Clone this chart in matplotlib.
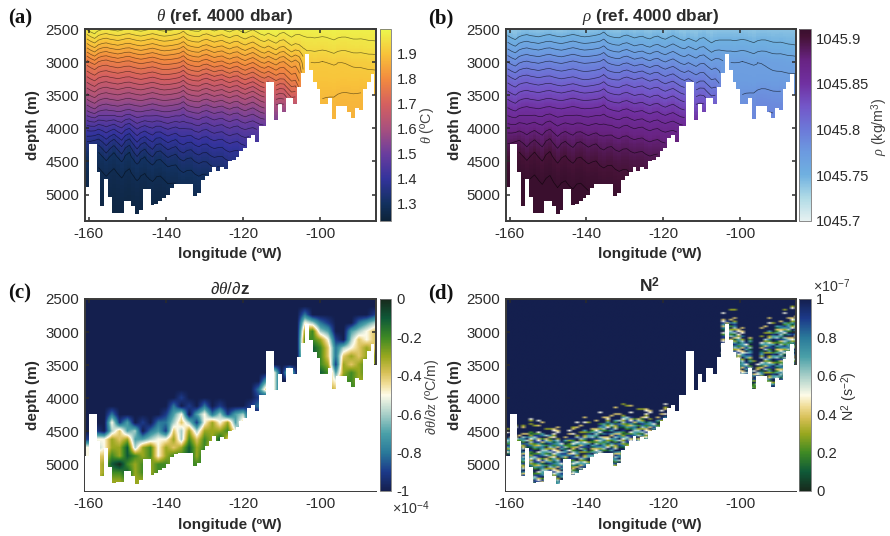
import numpy as np
import matplotlib
matplotlib.use("Agg")
import matplotlib.pyplot as plt
from matplotlib.colors import LinearSegmentedColormap as LSC

W, H = 890, 536
plt.rcParams.update({
    "font.family": ["Liberation Sans", "DejaVu Sans"],
    "mathtext.fontset": "custom",
    "mathtext.rm": "Liberation Sans",
    "mathtext.it": "Liberation Serif:italic",
    "mathtext.bf": "Liberation Sans:bold",
    "axes.unicode_minus": False,
    "axes.linewidth": 1.4,
    "axes.edgecolor": "#3a3a3a",
    "text.color": "#2b2b2b",
    "xtick.color": "#2b2b2b",
    "ytick.color": "#2b2b2b",
})

# ---- sea-floor depth, one value per 1-degree bin from -161 to -85
lon_start = -161
bottom_depth = [
    4870, 4230, 4230, 4650, 5180, 4750, 5030, 5280, 5270, 5270,
    5100, 5100, 5180, 5290, 5240, 4920, 4920, 5160, 5130, 5090,
    5060, 4990, 4890, 4840, 4830, 4830, 4830, 4830, 5020, 4970,
    4780, 4720, 4650, 4570, 4640, 4580, 4610, 4490, 4480, 4430,
    4340, 4290, 4140, 4100, 4190, 3950, 3950, 3290, 3290, 3880,
    3640, 3750, 3540, 3540, 3640, 3380, 3160, 2880, 3120, 3300,
    3390, 3630, 3630, 3540, 3860, 3660, 3660, 3660, 3760, 3830,
    3690, 3720, 3400, 3290, 3180, 3490,
]

# ---- section tables, estimated from colour at coarse positions
table_lon = [-161, -140, -125, -112, -106, -104, -95, -85]
table_depth = [2500, 2750, 3000, 3250, 3500, 3750, 4000, 4250, 4500, 4750, 5000, 5300]
theta_table = [
    [1.97, 1.97, 1.97, 1.98, 1.98, 1.98, 1.98, 1.98],
    [1.87, 1.88, 1.89, 1.91, 1.93, 1.95, 1.95, 1.96],
    [1.76, 1.78, 1.80, 1.82, 1.84, 1.91, 1.91, 1.92],
    [1.68, 1.69, 1.70, 1.73, 1.78, 1.90, 1.90, 1.90],
    [1.60, 1.60, 1.61, 1.63, 1.70, 1.89, 1.88, 1.88],
    [1.52, 1.52, 1.53, 1.55, 1.60, 1.88, 1.87, 1.87],
    [1.43, 1.44, 1.46, 1.48, 1.50, 1.88, 1.87, 1.87],
    [1.35, 1.37, 1.40, 1.43, 1.45, 1.88, 1.87, 1.87],
    [1.29, 1.31, 1.35, 1.38, 1.40, 1.88, 1.87, 1.87],
    [1.27, 1.28, 1.31, 1.35, 1.38, 1.88, 1.87, 1.87],
    [1.26, 1.265, 1.29, 1.33, 1.36, 1.88, 1.87, 1.87],
    [1.25, 1.255, 1.28, 1.32, 1.35, 1.88, 1.87, 1.87],
]
rho_table = [
    [45.74, 45.74, 45.74, 45.74, 45.74, 45.74, 45.74, 45.74],
    [45.765, 45.765, 45.76, 45.76, 45.755, 45.755, 45.755, 45.75],
    [45.79, 45.79, 45.785, 45.78, 45.775, 45.77, 45.77, 45.765],
    [45.815, 45.81, 45.81, 45.80, 45.79, 45.772, 45.772, 45.772],
    [45.835, 45.835, 45.83, 45.825, 45.81, 45.775, 45.785, 45.78],
    [45.855, 45.855, 45.85, 45.845, 45.83, 45.78, 45.79, 45.79],
    [45.875, 45.875, 45.87, 45.865, 45.85, 45.78, 45.79, 45.79],
    [45.89, 45.89, 45.885, 45.88, 45.87, 45.78, 45.79, 45.79],
    [45.903, 45.90, 45.895, 45.89, 45.88, 45.78, 45.79, 45.79],
    [45.91, 45.907, 45.90, 45.895, 45.89, 45.78, 45.79, 45.79],
    [45.915, 45.912, 45.905, 45.90, 45.895, 45.78, 45.79, 45.79],
    [45.92, 45.915, 45.91, 45.905, 45.90, 45.78, 45.79, 45.79],
]
# contour displacement per 1-degree bin, metres (estimated from the contour wiggles)
wiggle_upper = [
    0, 35, 60, 15, -5, -15, 0, 8, 18, 5,
    -10, -15, 0, 12, 20, 8, -6, -18, -5, 10,
    18, 12, 2, -10, -25, -60, -10, 8, 18, 20,
    -10, -25, -5, 15, -3, -15, 10, 25, -5, -18,
    12, 30, 0, -25, 5, 35, 50, 15, 40, 60,
    10, -10, 25, 55, 15, 0, 0, 0, 0, 10,
    0, -10, 0, 20, 40, 10, -5, -10, 0, 10,
    5, -5, 0, 5, 0, 0,
]
wiggle_deep = [
    -20, -40, -70, -90, -30, 30, -40, -100, -30, 30,
    -70, -120, -20, 50, -30, -70, 0, 40, -40, -60,
    -10, 30, -10, -40, 20, 40, -10, -30, 15, 30,
    -15, -30, 5, 20, -5, -20, 15, 30, 0, -20,
    10, 20, 0, -10, 0, 10, 0, 0, 0, 0,
    0, 0, 0, 0, 0, 0, 0, 0, 0, 0,
    0, 0, 0, 0, 0, 0, 0, 0, 0, 0,
    0, 0, 0, 0, 0, 0,
]

# ---- panel c, tenths of 1e-4 degC/m ('A' = -1.0) every 2 deg (-160...-86) and 125 m (2500...5250)
c_rows = [
    "AAAAAAAAAA AAAAAAAAAA AAAAAAAAAA AAAAAAAA",
    "AAAAAAAAAA AAAAAAAAAA AAAAAAAAAA AAAAAAAA",
    "AAAAAAAAAA AAAAAAAAAA AAAAAAAA8A AAAAAAA9",
    "AAAAAAAAAA AAAAAAAAAA AAAAAAAA56 89AAA876",
    "AAAAAAAAAA AAAAAAAAAA AAAAAAAA32 67AA7654",
    "AAAAAAAAAA AAAAAAAAAA AAAAAAAA22 359A6454",
    "AAAAAAAAAA AAAAAAAAAA AAAAAAAA21 24865434",
    "AAAAAAAAAA AAAAAAAAAA AAAAAAAA31 24843433",
    "AAAAAAAAAA AAAAAAAAAA AAAAAAAA31 23934323",
    "AAAAAAAAAA AAAAAAAAAA AAAA5A5A32 12732323",
    "AAAAAAAAAA AAAAAAAAAA AAA75AAA33 44522333",
    "AAAAAAAAAA AAAAAAAAAA AA845AAAAA 33432233",
    "AAAAAAAAAA AA9AAAAAAA AA9AAAAAAA AAAAAAAA",
    "AAAAAAAAAA A8A9A8A9AA A98AAAAAAA AAAAAAAA",
    "AAA8AAAAAA 975A758697 6AAAAAAAAA AAAAAAAA",
    "AAA597A9A8 8646953537 4AAAAAAAAA AAAAAAAA",
    "A9A6476A87 9463633325 AAAAAAAAAA AAAAAAAA",
    "9553437765 5362423143 AAAAAAAAAA AAAAAAAA",
    "5653316325 3431324222 AAAAAAAAAA AAAAAAAA",
    "5442312325 3221312222 AAAAAAAAAA AAAAAAAA",
    "5431023232 2322222222 AAAAAAAAAA AAAAAAAA",
    "5432213232 2322222222 AAAAAAAAAA AAAAAAAA",
    "5423323323 3322222222 AAAAAAAAAA AAAAAAAA",
]

# ---- panel d: top of the speckled layer every 2 deg (-160...-86), 9000 = no layer
n2_top = [4600, 4580, 4580, 4500, 4520, 4560, 4620, 4620, 4600, 4560,
          4480, 4440, 4380, 4350, 4330, 4270, 4270, 4300, 4340, 4330,
          4270, 9000, 9000, 9000, 9000, 9000, 9000, 9000, 2820, 2860,
          3060, 3100, 3590, 3100, 2980, 2900, 2850, 2800]
# Hand-typed repeating texture: it imitates the speckle, it is not a cell-by-cell reading.
n2_texture = [
    "827738A95166749928A33778",
    "6A144A9927A385582917AA64",
    "783A662298491774A2873995",
    "2A57AA139766889257744A18",
    "94A2883746812A77A5398A26",
    "761A497257A883A1486622A7",
    "38A7915A9724466A83AA5971",
    "82966A3A78A15792A4A37719",
    "57A18A624A339786925A8744",
    "1749773982675871367A9A22",
    "A8572486197934A8A5192A76",
    "663A9817A4285AA7294673A8",
]

# ---- tick labels
xticks = [-160, -140, -120, -100]
yticks = [2500, 3000, 3500, 4000, 4500, 5000]
theta_ticks = [1.3, 1.4, 1.5, 1.6, 1.7, 1.8, 1.9]
rho_ticks = [45.7, 45.75, 45.8, 45.85, 45.9]
rho_labels = ["1045.7", "1045.75", "1045.8", "1045.85", "1045.9"]
dtheta_ticks = [-1, -0.8, -0.6, -0.4, -0.2, 0]
n2_ticks = [0, 0.2, 0.4, 0.6, 0.8, 1]

# ---- colour maps
thermal = LSC.from_list("th", [
    (0.0, "#0d2238"), (0.09, "#12315f"), (0.22, "#33339c"), (0.35, "#6a3d9e"),
    (0.48, "#a8507e"), (0.61, "#d5605f"), (0.74, "#f28a3f"), (0.87, "#f8c23a"), (1.0, "#ecf84d")])
dense = LSC.from_list("de", [
    (0.0, "#e6f1f1"), (0.12, "#b0dbe6"), (0.24, "#6fb0e0"), (0.36, "#6c9ae0"), (0.48, "#6c78d8"),
    (0.60, "#7356c8"), (0.72, "#7030a0"), (0.84, "#682383"), (0.96, "#451236"), (1.0, "#3a0f2e")])
delta_stops = [(0.0, "#141f4e"), (0.1, "#1c3a8a"), (0.2, "#2a7a9a"), (0.3, "#4aa0a8"),
               (0.4, "#a8cfc8"), (0.5, "#fdfbe8"), (0.56, "#f0dc95"), (0.62, "#d6bf55"),
               (0.7, "#9aa81f"), (0.8, "#3f8a24"), (0.9, "#0f5a38"), (1.0, "#17291c")]
delta = LSC.from_list("dl", delta_stops)

bottom = np.array(bottom_depth, float)
n_bins = len(bottom)
lon_edges = lon_start + np.arange(n_bins + 1)
lon_mid = lon_edges[:-1] + 0.5
XLIM = (-161, -85.6)
YLIM = (5400, 2500)

fig = plt.figure(figsize=(W / 100, H / 100), dpi=100, facecolor="white")


def axpx(l, t, r, b):
    return fig.add_axes([l / W, 1 - b / H, (r - l) / W, (b - t) / H])


def txt(x, y, s, **kw):
    kw.setdefault("ha", "center")
    kw.setdefault("va", "center")
    return fig.text(x / W, 1 - y / H, s, **kw)


def section(table):
    """Field on the bin/depth grid: table lookup at a depth moved by the wiggle lists."""
    z_edges = np.arange(2500, 5421, 20.0)
    z = 0.5 * (z_edges[1:] + z_edges[:-1])
    t = np.array(table, float)
    by_lon = np.array([[np.interp(x, table_lon, row) for x in lon_mid] for row in t])
    out = np.zeros((len(z), n_bins))
    for j in range(n_bins):
        w = np.clip((z - 3700) / 600, 0, 1)
        shift = (1 - w) * wiggle_upper[j] + w * wiggle_deep[j]
        out[:, j] = np.interp(z - shift, table_depth, by_lon[:, j])
    mask = z[:, None] > bottom[None, :]
    return z_edges, z, np.ma.array(out, mask=mask)


def style(ax):
    ax.set_xlim(*XLIM)
    ax.set_ylim(*YLIM)
    ax.set_xticks(xticks)
    ax.set_yticks(yticks)
    ax.tick_params(direction="in", top=True, right=True, length=3, width=1.1,
                   labelsize=10.8, pad=4)


def sea_floor(ax):
    ax.fill_between(np.repeat(lon_edges, 2)[1:-1], np.repeat(bottom, 2), YLIM[0],
                    color="white", lw=0, zorder=3)


def cbar(mappable, l, t, r, b, ticks, labels=None):
    cax = axpx(l, t, r, b)
    cb = fig.colorbar(mappable, cax=cax)
    cb.set_ticks(ticks)
    if labels is not None:
        cb.set_ticklabels(labels)
    cb.ax.tick_params(length=0, labelsize=10.6, pad=4)
    cb.outline.set_edgecolor("#777777")
    cb.outline.set_linewidth(0.6)
    return cb


# ---- panel a
ax_a = axpx(85, 29, 376, 221)
ze, zm, theta = section(theta_table)
im_a = ax_a.pcolormesh(lon_edges, ze, theta, cmap=thermal, vmin=1.229, vmax=1.997)
ax_a.contour(lon_mid, zm, theta, levels=np.arange(1.25, 1.98, 0.0275),
             colors="k", linewidths=0.5, alpha=0.5)
style(ax_a)
cbar(im_a, 380, 29, 391.3, 221, theta_ticks, [f"{v:.1f}" for v in theta_ticks])

# ---- panel b
ax_b = axpx(505.7, 29, 795.7, 221)
ze, zm, rho = section(rho_table)
im_b = ax_b.pcolormesh(lon_edges, ze, rho, cmap=dense, vmin=45.7, vmax=45.91)
ax_b.contour(lon_mid, zm, rho, levels=np.arange(45.75, 45.915, 0.01),
             colors="k", linewidths=0.5, alpha=0.6)
style(ax_b)
cbar(im_b, 799.3, 29, 810.7, 221, rho_ticks, rho_labels)

# ---- panel c
ax_c = axpx(85, 299, 376, 491)
c_grid = np.array([[-1.0 if ch == "A" else -int(ch) / 10 for ch in r.replace(" ", "")]
                   for r in c_rows])
im_c = ax_c.imshow(c_grid, cmap=delta, vmin=-1, vmax=0, aspect="auto", interpolation="bilinear",
                   extent=(-161, -85, 5312.5, 2437.5))
sea_floor(ax_c)
style(ax_c)
cbar(im_c, 380, 299, 391.3, 491, dtheta_ticks,
     ["-1", "-0.8", "-0.6", "-0.4", "-0.2", "0"])

# ---- panel d
ax_d = axpx(505.7, 299, 795.7, 491)
dz = 25.0
z_d = np.arange(2500 + dz / 2, 5400, dz)
tex_rows = len(n2_texture)
tex_cols = len(n2_texture[0])
d_grid = np.ones((len(z_d), n_bins))
for j in range(n_bins):
    top = n2_top[int(np.clip(round((lon_mid[j] + 160) / 2), 0, len(n2_top) - 1))]
    for i, zv in enumerate(z_d):
        ch = n2_texture[(i + 5 * j) % tex_rows][j % tex_cols]
        if zv >= top or (zv >= top - 200 and ch in "345" and top < 9000):
            d_grid[i, j] = 1.0 if ch == "A" else int(ch) / 10
im_d = ax_d.imshow(d_grid, cmap=delta.reversed(), vmin=0, vmax=1, aspect="auto",
                   interpolation="bilinear", extent=(-161, -85, 5400, 2500))
sea_floor(ax_d)
style(ax_d)
cbar(im_d, 799.3, 299, 810.7, 491, n2_ticks, ["0", "0.2", "0.4", "0.6", "0.8", "1"])

# ---- axis text
for x in (230, 650):
    for y in (254, 525):
        txt(x, y, "longitude (ºW)", fontsize=11, fontweight="bold")
for x in (33, 455):
    for y in (125, 395):
        txt(x, y, "depth (m)", fontsize=11, fontweight="bold", rotation=90)

for x, y, s in [(8, 18, "(a)"), (428, 18, "(b)"), (8, 293, "(c)"), (428, 293, "(d)")]:
    txt(x, y, s, ha="left", fontsize=15, fontweight="bold", family="Liberation Serif", color="#111111")

txt(225, 17, r"$\theta$ (ref. 4000 dbar)", fontsize=12.3, fontweight="bold")
txt(651, 17, r"$\rho$ (ref. 4000 dbar)", fontsize=12.3, fontweight="bold")
txt(230, 289, r"$\partial\theta/\partial$z", fontsize=12.3, fontweight="bold")
txt(650, 286, r"N$^{\mathbf{2}}$", fontsize=12.6, fontweight="bold")

txt(427, 125, r"$\theta$ (ºC)", fontsize=10.3, rotation=90, color="#444444")
txt(880, 127, r"$\rho$ (kg/m$^3$)", fontsize=10.3, rotation=90, color="#444444")
txt(432, 397, r"$\partial\theta/\partial z$ (ºC/m)", fontsize=10.3, rotation=90, color="#444444")
txt(850, 396, r"N$^2$ (s$^{-2}$)", fontsize=10.3, rotation=90, color="#333333")
txt(411, 508, r"$\times$10$^{-4}$", fontsize=10.3, color="#333333")
txt(832, 286, r"$\times$10$^{-7}$", fontsize=10.3, color="#333333")

fig.savefig("out.png", dpi=100, facecolor="white")
